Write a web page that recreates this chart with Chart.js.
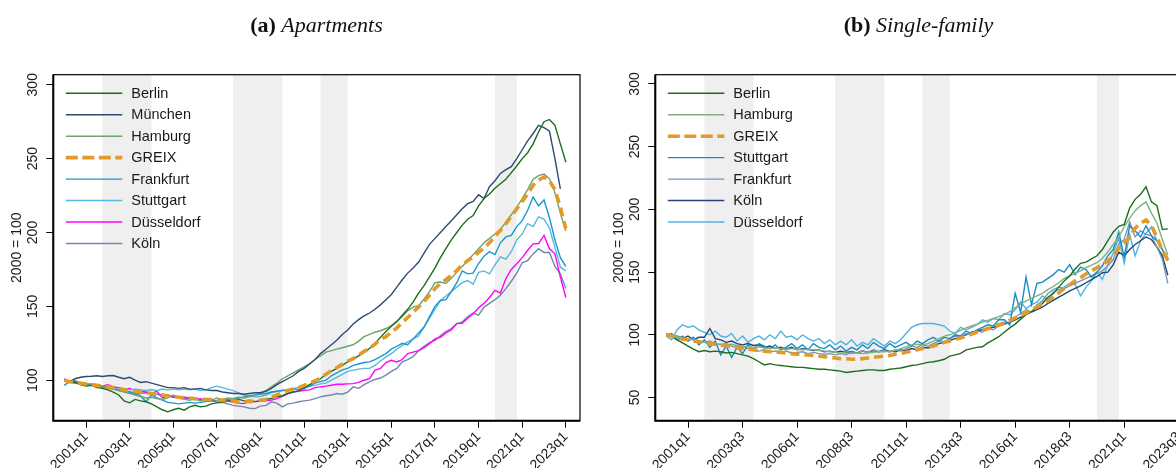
<!DOCTYPE html>
<html>
<head>
<meta charset="utf-8">
<script src="https://cdn.jsdelivr.net/npm/chart.js@4.4.1/dist/chart.umd.min.js"></script>
<style>
  html, body { margin: 0; padding: 0; width: 1176px; height: 468px; overflow: hidden; background: #fff; }
  .panel { position: absolute; top: 0; width: 590px; height: 468px; }
  #panelA { left: 0; }
  #panelB { left: 602px; }
  .panel canvas { position: absolute; left: 0; top: 0; }
  .title { position: absolute; top: 12px; left: 53px; width: 527px; text-align: center;
           font-family: "Liberation Serif", "DejaVu Serif", serif; font-size: 22px; color: #111; z-index: 2; }
</style>
</head>
<body>
<div class="panel" id="panelA">
  <canvas id="chartA" width="590" height="468"></canvas>
  <div class="title"><b>(a)</b> <i>Apartments</i></div>
</div>
<div class="panel" id="panelB">
  <canvas id="chartB" width="590" height="468"></canvas>
  <div class="title"><b>(b)</b> <i>Single-family</i></div>
</div>
<script>
// quarters 2000q1 .. 2023q1
const quarters = [];
for (let y = 2000; y <= 2023; y++) for (let q = 1; q <= 4; q++) if (quarters.length < 93) quarters.push(y + 'q' + q);

const aptTickLabels = ['2001q1','2003q1','2005q1','2007q1','2009q1','2011q1','2013q1','2015q1','2017q1','2019q1','2021q1','2023q1'];
const sfTickLabels = ['2001q1','2003q3','2006q1','2008q3','2011q1','2013q3','2016q1','2018q3','2021q1','2023q3'];
const aptYTicks = [100, 150, 200, 250, 300];
const sfYTicks = [50, 100, 150, 200, 250, 300];
const recessions = [['2001q4','2004q1'], ['2007q4','2010q1'], ['2011q4','2013q1'], ['2019q4','2020q4']];

// (a) Apartments, 2000 = 100
const aptBerlin = [100, 99, 98.5, 97, 96, 96.5, 95, 94.5, 93.5, 92,
  90, 86, 84.7, 87, 86, 85.4, 84, 82, 80, 78.6,
  80, 81, 79.7, 82, 83, 82, 82.5, 84, 84.7, 85,
  86, 86.5, 87, 86, 86.5, 85.5, 86, 87, 87.6, 89,
  89.5, 91, 92, 93, 95, 97, 99, 101, 104, 106,
  108, 110, 112.5, 114.5, 116.5, 119, 121.5, 125, 129, 133,
  136.5, 139.5, 144, 148, 153, 159, 164, 170, 176, 183,
  189, 195, 200, 205, 209, 211.5, 218, 223, 226, 230,
  233, 236, 240.5, 245, 250, 254, 260, 268, 275, 276.5,
  272.5, 260, 247.5];
const aptMuenchen = [100, 99, 101, 102, 102.5, 102.7, 103, 102.5, 103, 103.2,
  102, 101, 102, 100, 98.5, 99, 98, 97, 96, 95,
  95, 94.5, 95, 94, 94, 94.5, 93.5, 93, 93, 92,
  91.5, 91, 91, 90.5, 91, 91.5, 91.5, 92.5, 94.5, 97,
  99, 101, 103, 106, 108, 111, 114, 118, 121, 124,
  127, 131, 134, 138, 141, 143.5, 145.5, 148, 151, 154.5,
  158, 163, 168, 172.5, 176, 180, 186, 192, 196, 200,
  204, 208, 212, 216, 219.5, 221, 225.5, 223, 231, 235,
  240, 242.5, 244.5, 250, 256, 262, 267, 272.5, 271, 268.5,
  250, 229.5];
const aptHamburg = [100, 99, 98, 98.5, 97, 96.5, 97, 96, 95, 94,
  93, 92, 91, 90, 89, 88, 88.5, 87.5, 87, 88,
  90, 88, 87, 86.5, 87.5, 86, 87, 86.5, 88, 87,
  88, 87.5, 88.5, 88, 89, 90, 91.5, 93, 95.5, 98,
  101, 103, 105, 107, 109, 111, 114, 116.5, 119, 120,
  121, 122, 123, 124, 126.5, 129.5, 131, 132.5, 133.5, 135,
  137, 140, 143, 147, 149.5, 150.5, 155, 160, 166, 166.5,
  165.5, 169, 173, 177, 181, 185, 189, 193, 196, 199,
  202, 207, 212, 217, 223, 229, 236, 238.5, 239.5, 236.5,
  227, 213, 201];
const aptGreix = [100, 99, 98.5, 98, 97.5, 97, 96.5, 96, 95.5, 95,
  94.5, 93.5, 93, 92.5, 92, 91.5, 91, 90.5, 90, 89.5,
  89, 88.5, 88, 88, 87.5, 87.5, 87, 87, 86.5, 86.5,
  86, 86, 85.5, 85.5, 85.5, 86, 86.5, 87, 88.5, 90,
  92, 93, 94, 95, 96.5, 98, 99.5, 101.5, 104, 106.5,
  108.5, 111, 113, 114.6, 117, 119.5, 121.5, 124.5, 127.5, 129.5,
  132.5, 135.5, 139, 142.5, 146, 149.5, 153.5, 157.5, 162, 165.5,
  168, 171, 174.3, 178, 181, 183.5, 186.5, 189.5, 193, 197.5,
  201.5, 206, 211, 216, 221, 226, 232, 235.5, 237.5, 235,
  229, 217, 202.5];
const aptFrankfurt = [96.5, 99, 99.5, 98, 97, 97.5, 96, 95.5, 95, 94,
  93.5, 92.5, 92, 91, 89.5, 85.5, 90, 88, 86.5, 85,
  84.5, 84, 84.5, 85, 84.5, 85, 85.5, 86, 86, 86.5,
  87, 87.5, 88, 88.7, 89.5, 90, 90.5, 91, 92, 92.5,
  93, 93.5, 94, 94, 94.4, 96, 98, 99, 100, 103,
  105, 107, 108, 110, 111, 112, 112.4, 114, 116, 118,
  121, 123, 125, 124, 128, 132, 136, 143, 150, 154,
  154.5, 160, 166, 174, 172, 172.5, 179, 184, 187, 185,
  193, 197, 198, 204, 208, 215, 224, 218, 222, 210,
  195, 183, 177];
const aptStuttgart = [100, 99.5, 99, 98, 97.5, 96.5, 96, 95.5, 95, 94.5,
  94, 94, 93.5, 94, 93.5, 93, 93.5, 93, 94, 93.5,
  94, 93.5, 94, 93.5, 94, 93, 93.5, 95, 96, 95,
  94, 93, 91.5, 90, 89, 88.7, 89, 90, 91.5, 92.5,
  93, 93.5, 94.5, 95, 95.5, 96, 96.5, 97.5, 98, 100,
  102, 104, 106, 106.8, 107.5, 108, 108, 110, 113, 115.8,
  118, 121, 123.6, 126, 128, 130, 136, 142, 148, 154,
  157, 160, 163, 166, 167.5, 165, 173, 174, 172, 178,
  183.5, 182, 187, 195, 199, 206, 204, 210.5, 209, 203,
  190, 176.5, 174];
const aptDuesseldorf = [101, 99, 99.5, 98, 97.5, 97, 96.5, 96, 97, 95.5,
  95, 94, 94.5, 93, 92.5, 92, 91, 92.5, 88, 89.5,
  88.5, 88.7, 88.5, 88, 87, 87.5, 86, 86.5, 85.5, 86,
  86, 85, 84.5, 84.2, 86, 85.5, 86, 86, 86.5, 87.5,
  89, 91, 92, 92.5, 93.2, 93.5, 95, 95.5, 96, 96.6,
  97.3, 97.3, 97.5, 97.7, 98.5, 100, 101, 106.8, 108, 112,
  113.5, 112.4, 114, 118, 119, 120, 122, 124.8, 128, 129,
  132, 134, 138.3, 138.5, 142, 145, 149, 152, 156, 160.8,
  159, 168.7, 175, 178.8, 183, 188, 192.3, 192.5, 198, 189,
  185.6, 169.8, 156];
const aptKoeln = [100, 99, 98, 97.5, 97, 96.5, 96, 95, 94.5, 94,
  93, 92.5, 92, 91.5, 91, 91.5, 91, 90.5, 90, 89.5,
  89, 88.5, 88, 87.5, 87, 87, 86.5, 86, 85.5, 85,
  84, 83, 82.5, 82, 81, 80.8, 82.5, 83, 85.4, 84.5,
  82, 84, 84.5, 85.4, 86, 86.5, 87.5, 88.7, 89.5, 90,
  91, 90.5, 92, 95.5, 94.5, 97, 98.9, 100.5, 101.5, 103.4,
  106, 108, 112.4, 114, 116, 120, 123, 125.5, 127, 130,
  133, 135, 138.3, 139.5, 143, 145.5, 144, 149.5, 152, 154.5,
  157.5, 162, 167, 172.5, 179.5, 181, 185.5, 189, 186.5, 186.5,
  177, 172, 162];

// (b) Single-family, 2000 = 100
const sfBerlin = [100, 98.5, 96, 93.5, 91, 88.5, 86.5, 87.5, 86.5, 87,
  86.5, 85.5, 86, 85, 84, 83, 81, 78.5, 76, 77,
  76, 75.5, 75, 74.5, 74, 74, 73.5, 73, 72.5, 72.5,
  72, 71.5, 71, 70, 70.5, 71, 71.5, 72, 72, 71.5,
  71.5, 72.5, 73, 73.5, 74.5, 75.5, 76, 77, 78, 78.5,
  79.3, 80.5, 83, 84, 85.2, 88, 89, 90, 90.5, 93.5,
  96, 98.5, 102, 105.5, 108.5, 112.5, 116, 118.5, 121, 125,
  130, 133, 138, 143, 147, 152.5, 157, 158, 160.5, 163,
  168, 175, 182, 186.5, 188, 201, 208, 212, 218, 206,
  203, 184, 184.5];
const sfHamburg = [100, 99, 98.5, 97, 96.5, 96, 95, 94, 93.5, 93,
  92.5, 92, 92.5, 91.5, 91, 90.5, 90, 90.5, 89.5, 89,
  89.5, 89, 88.5, 89, 88.5, 88, 88.5, 88, 87.5, 87,
  86.5, 86, 85.5, 85.5, 85, 85.5, 85, 85.5, 86, 86.5,
  86.5, 87, 87.5, 89, 90.5, 92, 92.5, 92, 93, 95,
  97, 99, 100, 101.5, 103.5, 105.5, 107, 108.5, 110, 111.5,
  113, 114.5, 116, 118.5, 121.5, 124.5, 127, 129, 131, 133,
  136, 138.5, 141.5, 145, 147, 149, 151, 153.5, 155.5, 157.5,
  161, 166, 172, 178, 186, 193, 199, 203, 206, 197,
  189, 176, 163.5];
const sfGreix = [100, 99, 98, 96.5, 96, 95, 94.5, 93.5, 93, 92.5,
  92, 91, 90.5, 89.5, 89, 88.5, 88, 87.5, 87, 86.5,
  86.5, 86, 85.5, 85, 84.5, 84, 84, 83.5, 83, 82.5,
  82, 81.5, 81, 81, 80.5, 80.5, 81, 81.5, 82, 82.5,
  83, 83.5, 84.5, 85, 86, 87, 88, 89, 90, 91,
  92.5, 94, 95, 96.5, 97.5, 99, 100.5, 102, 103.5, 105,
  106, 108, 109.5, 111.5, 113.5, 115.5, 117.5, 120, 122, 124.5,
  127, 130, 133.5, 137, 140, 143, 145.5, 148.5, 151, 153.5,
  156, 159, 162.5, 169, 173, 178, 185, 189, 191.5, 187,
  178, 167, 159.5];
const sfStuttgart = [99, 101, 96, 99, 95, 98, 92, 96, 90, 95,
  84, 91, 82, 90, 85, 92, 88, 93, 91, 89,
  92, 88, 90, 93, 89, 92, 88, 93, 90, 89,
  92, 88, 91, 87, 90, 88, 92, 89, 94, 91,
  89, 93, 90, 92, 94, 91, 95, 93, 96, 98,
  95, 98, 97, 100, 99, 103, 101, 104, 106, 108,
  107, 112, 112, 108, 133, 118, 146, 124, 141, 142,
  145, 148, 152, 150, 156, 148, 154, 152, 146, 150,
  155, 163, 168, 182, 162, 187, 183, 178, 187, 179,
  175, 168, 159];
const sfFrankfurt = [101, 100, 99, 98, 96, 97, 95, 94, 95, 93,
  92, 93, 91, 90, 91, 89, 88, 87, 88, 86.5,
  87, 86, 87, 85.5, 86, 86.5, 85, 86, 85, 84.5,
  85, 84, 85, 84, 86, 85.5, 87, 86, 88, 86.5,
  87.5, 86, 88, 87, 89, 91, 90, 92, 91, 93,
  95, 94, 97, 99, 98, 101, 100, 103, 102, 105,
  104, 107, 110, 109, 114, 117, 120, 118, 124, 127,
  133, 136, 138, 137, 139, 141, 143, 145, 147, 149,
  151, 155, 160, 172, 176, 190, 178, 183, 180, 179,
  170, 160, 141];
const sfKoeln = [100, 99, 98.5, 97, 99, 96, 98, 98, 105, 97,
  96, 94, 95, 93, 92, 93, 91.5, 92, 90, 91,
  89, 90, 88.5, 90, 88, 89, 88.5, 87.5, 88, 86.5,
  87, 86, 87, 86, 86.5, 85.5, 87, 86, 87.5, 86.5,
  88, 87, 86.5, 88, 87.5, 89, 88, 90, 89.5, 91,
  93, 94, 95.5, 97, 98.5, 100, 102, 103, 104, 105,
  106, 107, 108.5, 110, 112, 114, 116.5, 118, 120, 122,
  125, 127.5, 130, 132.5, 135, 137, 139, 141.5, 144, 146.5,
  149.5, 150, 156, 166, 163, 168, 172, 175, 178, 176,
  170, 163, 147.5];
const sfDuesseldorf = [99, 96, 104, 108, 106, 107, 104, 102, 100, 103,
  99, 98, 101, 95, 99, 94, 97, 99, 96, 100,
  97, 103, 98, 99, 96, 100, 97, 95, 97, 93,
  96, 92, 95, 92, 96, 91, 94, 92, 97, 94,
  91, 95, 93, 96, 101, 106, 108, 109, 109, 109,
  108, 107, 103, 101, 106, 104, 106, 108, 112, 110,
  113, 112, 117, 116, 120, 126, 121, 124, 126, 131,
  128, 134, 136, 138, 141, 140, 131, 138, 143, 150,
  144, 156, 165, 177, 157, 180, 163, 175, 181, 186,
  175, 168, 161];

function qPos(label) {
  const [y, q] = label.split('q');
  return Number(y) + (Number(q) - 1) / 4;
}
function points(values) {
  return values.map((v, i) => ({ x: qPos(quarters[i]), y: v }));
}
function line(label, values, color) {
  return { label, data: points(values), borderColor: color, borderWidth: 1.4 };
}
function greix(values) {
  return { label: 'GREIX', data: points(values), borderColor: '#e39a2a', borderWidth: 3.6,
           borderDash: [9, 5], legendDash: [12, 4.5], order: -1 };
}

const sansFont = '"Liberation Sans", Arial, sans-serif';

// bands, frame, in-plot legend, rotated y labels
const panelDecor = {
  id: 'panelDecor',
  beforeDatasetsDraw(chart) {
    const { ctx, chartArea: a } = chart;
    const x = chart.scales.x;
    ctx.save();
    ctx.fillStyle = '#efefef';
    recessions.forEach(([s, e]) => {
      const x0 = x.getPixelForValue(qPos(s));
      const x1 = x.getPixelForValue(qPos(e));
      ctx.fillRect(x0, a.top, x1 - x0, a.bottom - a.top);
    });
    ctx.restore();
  },
  afterDatasetsDraw(chart) {
    const { ctx, chartArea: a } = chart;
    ctx.save();
    ctx.strokeStyle = '#000';
    ctx.lineWidth = 1.2;
    ctx.strokeRect(a.left, a.top, a.right - a.left, a.bottom - a.top);
    ctx.lineWidth = 2;
    ctx.beginPath();
    ctx.moveTo(a.left, a.top);
    ctx.lineTo(a.left, a.bottom);
    ctx.lineTo(a.right, a.bottom);
    ctx.stroke();

    ctx.font = '14.5px ' + sansFont;
    ctx.textBaseline = 'middle';
    ctx.fillStyle = '#1a1a1a';
    chart.data.datasets.forEach((ds, k) => {
      const ly = a.top + 18.6 + k * 21.45;
      ctx.strokeStyle = ds.borderColor;
      ctx.lineWidth = ds.borderWidth;
      ctx.setLineDash(ds.legendDash || []);
      ctx.beginPath();
      ctx.moveTo(a.left + 12.5, ly);
      ctx.lineTo(a.left + 69, ly);
      ctx.stroke();
      ctx.setLineDash([]);
      ctx.fillText(ds.label, a.left + 78, ly + 0.5);
    });
    ctx.restore();
  },
  afterDraw(chart, args, opts) {
    const { ctx, chartArea: a } = chart;
    const y = chart.scales.y;
    ctx.save();
    ctx.fillStyle = '#1a1a1a';
    ctx.font = '14px ' + sansFont;
    ctx.textAlign = 'center';
    ctx.textBaseline = 'middle';
    opts.yTicks.forEach(v => {
      ctx.save();
      ctx.translate(a.left - 20, y.getPixelForValue(v));
      ctx.rotate(-Math.PI / 2);
      ctx.fillText(String(v), 0, 0);
      ctx.restore();
    });
    ctx.translate(a.left - 36, (a.top + a.bottom) / 2);
    ctx.rotate(-Math.PI / 2);
    ctx.fillText('2000 = 100', 0, 0);
    ctx.restore();
  }
};

function makeChart(id, datasets, xTicks, yTicks, yMin, yMax) {
  const tickGrid = { drawOnChartArea: false, drawTicks: true, tickLength: 7, color: '#000', lineWidth: 1 };
  return new Chart(document.getElementById(id), {
    type: 'line',
    data: { datasets },
    plugins: [panelDecor],
    options: {
      responsive: false,
      animation: false,
      layout: { padding: { top: 74.7, right: 10, left: 0, bottom: 0 } },
      elements: { point: { radius: 0 }, line: { tension: 0, borderCapStyle: 'butt' } },
      plugins: {
        legend: { display: false },
        tooltip: { enabled: false },
        panelDecor: { yTicks }
      },
      scales: {
        x: {
          type: 'linear', min: 1999.5, max: 2023.65,
          afterBuildTicks: ax => { ax.ticks = xTicks.map(l => ({ value: qPos(l) })); },
          afterFit: ax => { ax.height = 47.3; ax.paddingLeft = 0; ax.paddingRight = 0; },
          grid: tickGrid,
          border: { display: false },
          ticks: {
            autoSkip: false, minRotation: 45, maxRotation: 45, padding: 1,
            color: '#1a1a1a', font: { family: sansFont, size: 14 },
            callback: (v, i) => xTicks[i]
          }
        },
        y: {
          type: 'linear', min: yMin, max: yMax,
          afterBuildTicks: ax => { ax.ticks = yTicks.map(v => ({ value: v })); },
          afterFit: ax => { ax.width = 53.3; ax.paddingTop = 0; ax.paddingBottom = 0; },
          grid: tickGrid,
          border: { display: false },
          ticks: { display: false }
        }
      }
    }
  });
}

makeChart('chartA', [
  line('Berlin', aptBerlin, '#1b6e1b'),
  line('München', aptMuenchen, '#2b4c72'),
  line('Hamburg', aptHamburg, '#6aa56a'),
  greix(aptGreix),
  line('Frankfurt', aptFrankfurt, '#1998d0'),
  line('Stuttgart', aptStuttgart, '#5ab6df'),
  line('Düsseldorf', aptDuesseldorf, '#ff00ff'),
  line('Köln', aptKoeln, '#7089a9')
], aptTickLabels, aptYTicks, 72.6, 306.8);

makeChart('chartB', [
  line('Berlin', sfBerlin, '#1b6e1b'),
  line('Hamburg', sfHamburg, '#7fb27f'),
  greix(sfGreix),
  line('Stuttgart', sfStuttgart, '#1a8cc4'),
  line('Frankfurt', sfFrankfurt, '#7b96b3'),
  line('Köln', sfKoeln, '#1f4775'),
  line('Düsseldorf', sfDuesseldorf, '#4fb3e2')
], sfTickLabels, sfYTicks, 31.5, 307.4);
</script>
</body>
</html>
